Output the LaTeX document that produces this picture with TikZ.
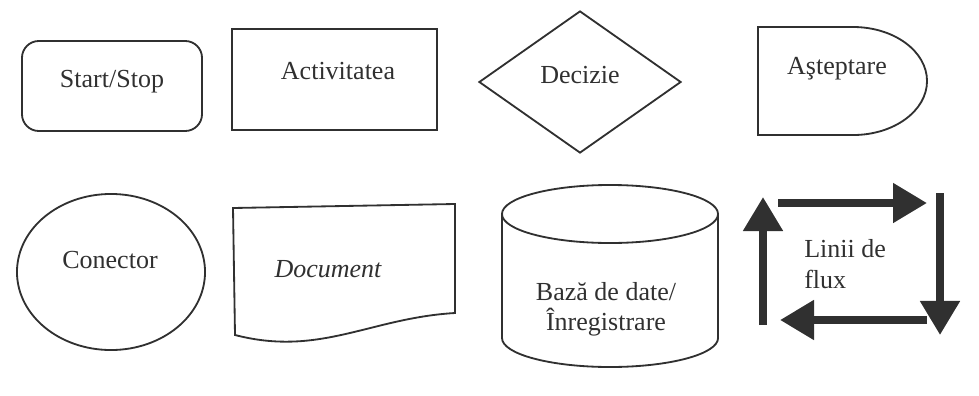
\documentclass[tikz,border=0pt]{standalone}
\usepackage{fontspec}
\setmainfont{Liberation Serif}
\usepackage{tikz}
\usetikzlibrary{shapes.geometric}
\usetikzlibrary{arrows.meta}
\definecolor{ink}{HTML}{303030}
\tikzstyle{symbol}=[draw=ink, line width=1.3pt, inner sep=0pt]
\tikzstyle{caption}=[text=ink, font=\fontsize{18.5}{21.5}\selectfont, inner sep=0pt]
\tikzstyle{flow}=[draw=ink, line width=0.2cm, -{Triangle[length=0.85cm, width=0.95cm]}]

\begin{document}
\begin{tikzpicture}[x=0.025cm, y=-0.025cm]
        \useasboundingbox (0,0) rectangle (979,395);
        % first row
        \node[symbol, rectangle, rounded corners=12pt, minimum width=4.5cm, minimum height=2.25cm] (term) at (112,86) {};
        \node[caption] (termT) at (112,82) {Start/Stop};
        \node[symbol, rectangle, minimum width=5.125cm, minimum height=2.525cm] (act) at (334.5,79.5) {};
        \node[caption] (actT) at (338,71) {Activitatea};
        \node[symbol, diamond, minimum width=5.05cm, minimum height=3.55cm] (dec) at (580,82) {};
        \node[caption] (decT) at (580,75) {Decizie};
        \draw[draw=ink, line width=1.3pt] (758,27) -- (853,27)
            arc[start angle=90, end angle=-90, x radius=1.85cm, y radius=1.35cm] -- (758,135) -- cycle;
        \node[caption] (delayT) at (837,69) {Aşteptare};
        % second row
        \node[symbol, ellipse, minimum width=4.7cm, minimum height=3.9cm] (con) at (111,272) {};
        \node[caption] (conT) at (110,260) {Conector};
        \draw[draw=ink, line width=1.3pt] (233,208) -- (455,204) -- (455,313)
            .. controls (370,318) and (320,357) .. (235,335) -- cycle;
        \node[caption, font=\fontsize{18.5}{21.5}\selectfont\itshape] (docT) at (328,269) {Document};
        \draw[draw=ink, line width=1.3pt] (610,214) ellipse[x radius=2.7cm, y radius=0.725cm];
        \draw[draw=ink, line width=1.3pt] (502,214) -- (502,338)
            arc[start angle=180, end angle=360, x radius=2.7cm, y radius=0.725cm] -- (718,214);
        \node[caption, align=center] (dbT) at (606,309) {Bază de date/\\Înregistrare};
        \coordinate (upA) at (763,325);
        \coordinate (upB) at (763,197);
        \coordinate (rtA) at (778,203);
        \coordinate (rtB) at (927,203);
        \coordinate (dnA) at (940,193);
        \coordinate (dnB) at (940,335);
        \coordinate (lfA) at (927,320);
        \coordinate (lfB) at (780,320);
        \draw[flow] (upA) -- (upB);
        \draw[flow] (rtA) -- (rtB);
        \draw[flow] (dnA) -- (dnB);
        \draw[flow] (lfA) -- (lfB);
        \node[caption, align=left, anchor=west] (flowT) at (804,264) {Linii de\\flux};
    \end{tikzpicture}
\end{document}
